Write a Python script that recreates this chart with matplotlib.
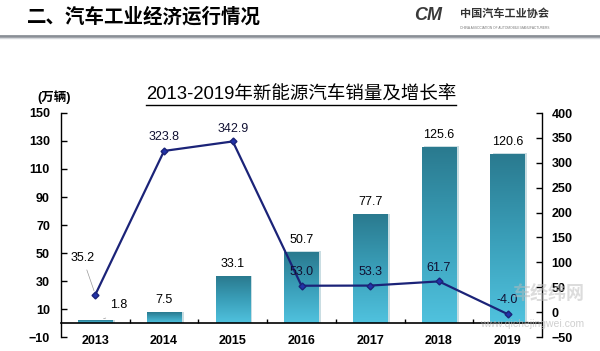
import matplotlib
matplotlib.use("Agg")
import matplotlib.pyplot as plt
import numpy as np
from matplotlib.lines import Line2D
from matplotlib.colors import LinearSegmentedColormap

plt.rcParams['font.family'] = ['Liberation Sans', 'Noto Sans CJK SC', 'DejaVu Sans']

years = ['2013', '2014', '2015', '2016', '2017', '2018', '2019']
sales = [1.8, 7.5, 33.1, 50.7, 77.7, 125.6, 120.6]          # 万辆
growth = [35.2, 323.8, 342.9, 53.0, 53.3, 61.7, -4.0]       # %
left_ticks = [-10, 10, 30, 50, 70, 90, 110, 130, 150]
right_ticks = [-50, 0, 50, 100, 150, 200, 250, 300, 350, 400]

fig = plt.figure(figsize=(6, 3.51), dpi=100)
ax = fig.add_axes([61/600, 1-337/351, (542-61)/600, (337-113)/351])
ax2 = ax.twinx()

x = np.arange(len(years))
bars = ax.bar(x, sales, width=0.5, color='none', edgecolor='none', zorder=2)

grad = np.linspace(0, 1, 256).reshape(-1, 1)
cmap = LinearSegmentedColormap.from_list('bar', ['#50c2de', '#3a9fb9', '#2a7a8f'])
for b in bars:
    x0, w, h = b.get_x(), b.get_width(), b.get_height()
    ax.bar(x0 + w/2 + 0.035, h + 0.8, width=w, bottom=-0.3, color='#c9dde2', zorder=1.5)
    ax.imshow(grad, extent=[x0, x0 + w, 0, h], origin='lower', aspect='auto',
              cmap=cmap, zorder=2)

ax.set_xlim(-0.5, 6.5)
ax.set_ylim(-10, 150)
ax2.set_ylim(-50, 400)
ax.set_yticks(left_ticks)
ax2.set_yticks(right_ticks)

for a in (ax, ax2):
    a.spines['top'].set_visible(False)
    a.spines['left'].set_linewidth(1.0)
    a.spines['right'].set_linewidth(1.0)
ax.spines['right'].set_visible(False)
ax2.spines['left'].set_visible(False)
ax2.spines['bottom'].set_visible(False)
ax.spines['bottom'].set_position(('data', 0))
ax.spines['bottom'].set_linewidth(1.2)

ax.tick_params(axis='y', direction='in', length=4, width=1, labelsize=9, pad=8)
ax2.tick_params(axis='y', direction='in', length=4, width=1, labelsize=9, pad=7)
for lab in ax.get_yticklabels() + ax2.get_yticklabels():
    lab.set_fontweight('bold')
ax.set_xticks(x)
ax.set_xticklabels(years, fontsize=9, fontweight='bold')
ax.tick_params(axis='x', which='major', length=0, pad=9)
ax.set_xticks(np.arange(0.5, 6, 1), minor=True)
ax.tick_params(axis='x', which='minor', direction='in', length=3, width=1)

ax2.plot(x, growth, color='#1b2378', lw=1.6, marker='D', markersize=3.5,
         markerfacecolor='#2233aa', markeredgecolor='#1b2378', zorder=5)

for i, v in enumerate(sales):
    if i == 0:
        ax.annotate(f'{v:.1f}', xy=(x[i] + 0.08, v + 1), xytext=(13, 10),
                    textcoords='offset points', ha='center', va='center', fontsize=9,
                    arrowprops=dict(arrowstyle='-', color='#999999', lw=0.5,
                                    connectionstyle='arc3,rad=-0.3', shrinkA=6))
    else:
        ax.annotate(f'{v:.1f}', xy=(x[i], v), xytext=(0, 9), textcoords='offset points',
                    ha='center', va='center', fontsize=9)

line_offsets = {0: (-9, 26), 1: (0, 10), 2: (0, 9), 3: (0, 10), 4: (0, 10), 5: (0, 10), 6: (0, 10)}
for i, v in enumerate(growth):
    dx, dy = line_offsets[i]
    if i == 0:
        ax2.annotate(f'{v:.1f}', xy=(x[i], v), xytext=(dx, dy), textcoords='offset points',
                     ha='center', va='center', fontsize=9, zorder=6,
                     arrowprops=dict(arrowstyle='-', color='#999999', lw=0.5, shrinkB=3))
    else:
        ax2.annotate(f'{v:.1f}', xy=(x[i], v), xytext=(dx, dy), textcoords='offset points',
                     ha='center', va='center', fontsize=9, zorder=6, color='#111133')

fig.text(37/600, 1-97/351, '(万辆)', fontsize=9, fontweight='bold', ha='left', va='center')

t = fig.text(301/600, 1-95/351, '2013-2019年新能源汽车销量及增长率', fontsize=13.3,
             ha='center', va='center')

fig.text(27/600, 1-17/351, '二、汽车工业经济运行情况', fontsize=14, fontweight='bold',
         ha='left', va='center')
fig.text(414/600, 1-16/351, 'CM', fontsize=13, fontweight='bold', fontstyle='italic',
         color='#3a3a3a', ha='left', va='center')
fig.text(460/600, 1-14/351, '中国汽车工业协会', fontsize=8, fontweight='bold',
         color='#333333', ha='left', va='center')
fig.text(460/600, 1-28/351, 'CHINA ASSOCIATION OF AUTOMOBILE MANUFACTURERS', fontsize=2.3,
         color='#777777', ha='left', va='center')
fig.add_artist(Line2D([0, 1], [1-36/351, 1-36/351], transform=fig.transFigure,
                      color='#8a8f96', lw=2))
fig.add_artist(Line2D([0, 1], [1-38/351, 1-38/351], transform=fig.transFigure,
                      color='#d5d8dc', lw=1))

fig.text(548/600, 1-294/351, '车经纬网', fontsize=13, fontweight='bold', color='#bbbbbb',
         alpha=0.5, ha='center', va='center')
fig.text(532/600, 1-324/351, 'www.qichejingwei.com', fontsize=7.5, color='#bbbbbb',
         alpha=0.7, ha='center', va='center')

fig.canvas.draw()
bb = t.get_window_extent()
y_ul = (bb.y0 - 1) / fig.bbox.height
fig.add_artist(Line2D([bb.x0 / fig.bbox.width, bb.x1 / fig.bbox.width], [y_ul, y_ul],
                      transform=fig.transFigure, color='black', lw=1))

fig.savefig('out.png', dpi=100)
